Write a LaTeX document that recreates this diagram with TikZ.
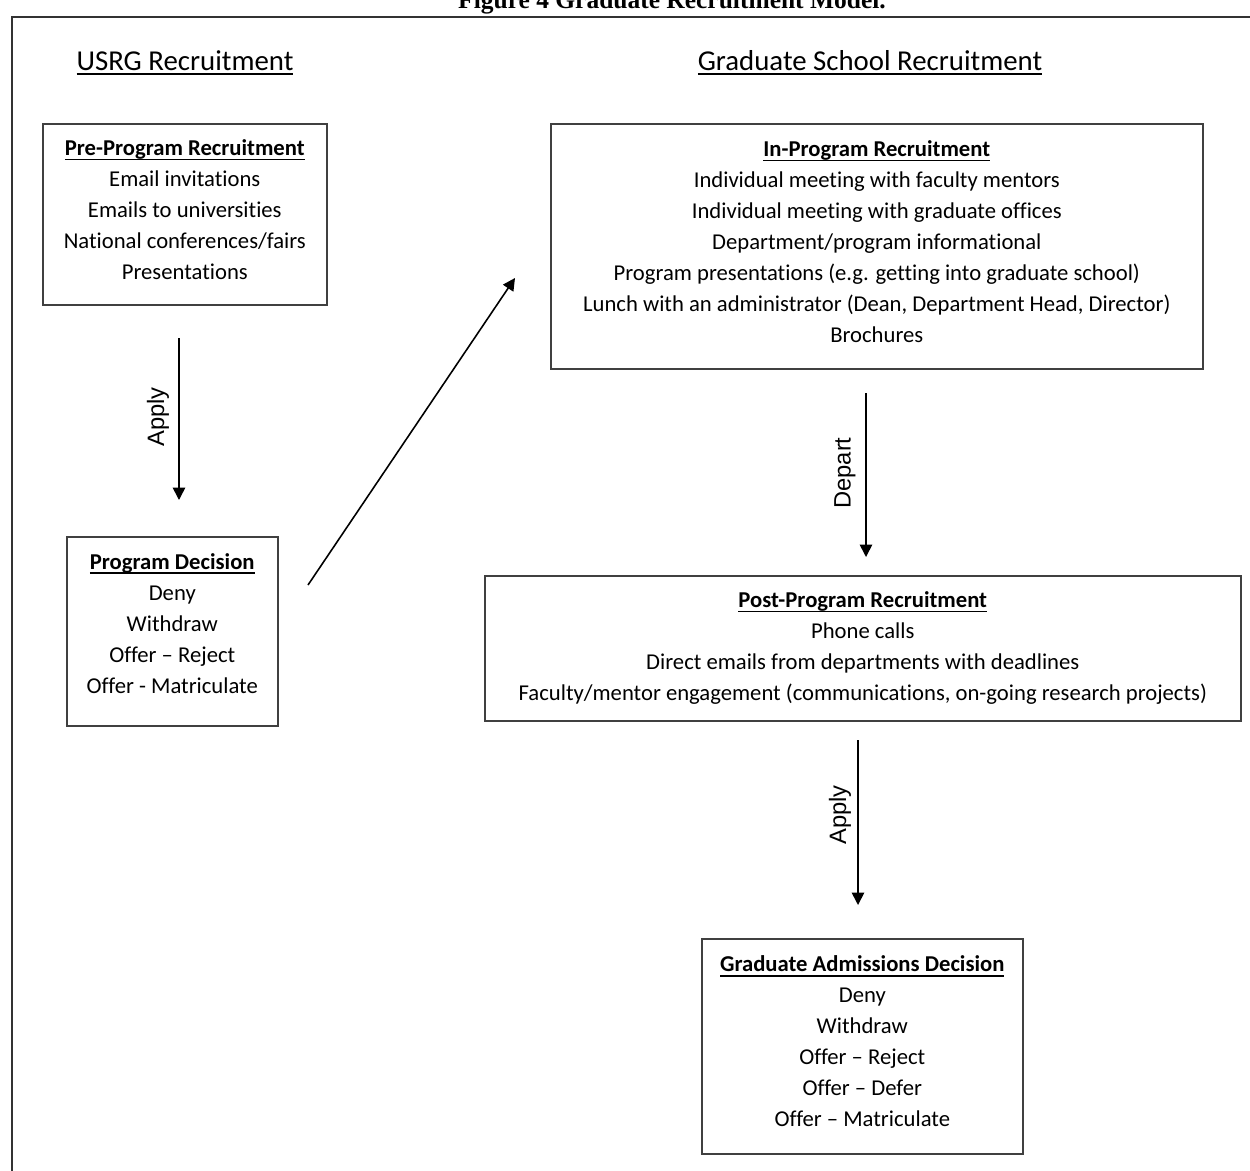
\documentclass[tikz,border=0pt]{standalone}
\usepackage{fontspec}
\setmainfont{Carlito}[RawFeature={-liga}]
\newfontfamily\labelfont{Liberation Sans}
\newfontfamily\capfont{Liberation Serif}
\usetikzlibrary{arrows.meta}
% underline at a fixed depth, whatever the descenders
\newcommand{\undl}[2][0.8pt]{\leavevmode\setbox0\hbox{#2}%
  \rlap{\raisebox{-2.6pt}{\rule{\wd0}{#1}}}\box0}
% extra depth under the last line, lifts the text in its box
\newcommand{\lowpad}[1]{\rule[-#1]{0pt}{#1}}

\tikzset{
  box/.style={draw=black!75, line width=0.9pt, align=center, anchor=north west,
    inner sep=0pt, font=\fontsize{12.9}{17.6}\selectfont},
  flow/.style={-{Triangle[length=7pt,width=7pt]}, line width=0.9pt},
  lbl/.style={font=\labelfont\fontsize{13.5}{16}\selectfont, rotate=90},
  head/.style={font=\fontsize{16.4}{20}\selectfont}
}

\begin{document}
\begin{tikzpicture}[x=0.02cm,y=-0.02cm]
  \useasboundingbox (0,0) rectangle (1250,1170);
  \clip (0,0) rectangle (1250,1170);

  % caption (cut by the page top) and frame
  \node[font=\capfont\bfseries\fontsize{14.5}{17}\selectfont, anchor=base] (cap) at (672,8)
    {Figure 4 Graduate Recruitment Model.};
  \draw[line width=1pt, black!80] (1260,17) -- (12,17) -- (12,1180);

  % column headings
  \node[head] (usrg) at (185,63) {\undl[1.2pt]{USRG Recruitment}};
  \node[head] (grad) at (870,63) {\undl[1.2pt]{Graduate School Recruitment}};

  % boxes
  \node[box, minimum width=284*0.02cm, minimum height=181*0.02cm] (pre) at (42,123)
    {\undl{\textbf{Pre-Program Recruitment}}\\
     Email invitations\\
     Emails to universities\\
     National conferences/fairs\\
     Presentations\lowpad{5.7pt}};
  \node[box, minimum width=211*0.02cm, minimum height=189*0.02cm] (dec) at (66,536)
    {\undl{\textbf{Program Decision}}\\
     Deny\\
     Withdraw\\
     Offer -- Reject\\
     Offer - Matriculate\lowpad{9.2pt}};
  \node[box, minimum width=652*0.02cm, minimum height=245*0.02cm] (inprog) at (550,123)
    {\undl{\textbf{In-Program Recruitment}}\\
     Individual meeting with faculty mentors\\
     Individual meeting with graduate offices\\
     Department/program informational\\
     Program presentations (e.g. getting into graduate school)\\
     Lunch with an administrator (Dean, Department Head, Director)\\
     Brochures\lowpad{5.7pt}};
  \node[box, minimum width=756*0.02cm, minimum height=145*0.02cm] (post) at (484,575)
    {\undl{\textbf{Post-Program Recruitment}}\\
     Phone calls\\
     Direct emails from departments with deadlines\\
     Faculty/mentor engagement (communications, on-going research projects)};
  \node[box, minimum width=321*0.02cm, minimum height=215*0.02cm] (admit) at (701,938)
    {\undl{\textbf{Graduate Admissions Decision}}\\
     Deny\\
     Withdraw\\
     Offer -- Reject\\
     Offer -- Defer\\
     Offer -- Matriculate\lowpad{5.7pt}};

  % arrow ends
  \coordinate (applyA) at (179,338);
  \coordinate (applyB) at (179,500);
  \coordinate (crossA) at (308,585);
  \coordinate (crossB) at (515,278);
  \coordinate (departA) at (866,393);
  \coordinate (departB) at (866,557);
  \coordinate (gapplyA) at (858,740);
  \coordinate (gapplyB) at (858,905);

  % arrows
  \draw[flow] (applyA) -- (applyB);
  \draw[flow] (crossA) -- (crossB);
  \draw[flow] (departA) -- (departB);
  \draw[flow] (gapplyA) -- (gapplyB);

  % arrow labels
  \node[lbl] (applylbl) at (158,417) {Apply};
  \node[lbl] (departlbl) at (845,473) {Depart};
  \node[lbl] (gapplylbl) at (840,815) {Apply};
\end{tikzpicture}
\end{document}
